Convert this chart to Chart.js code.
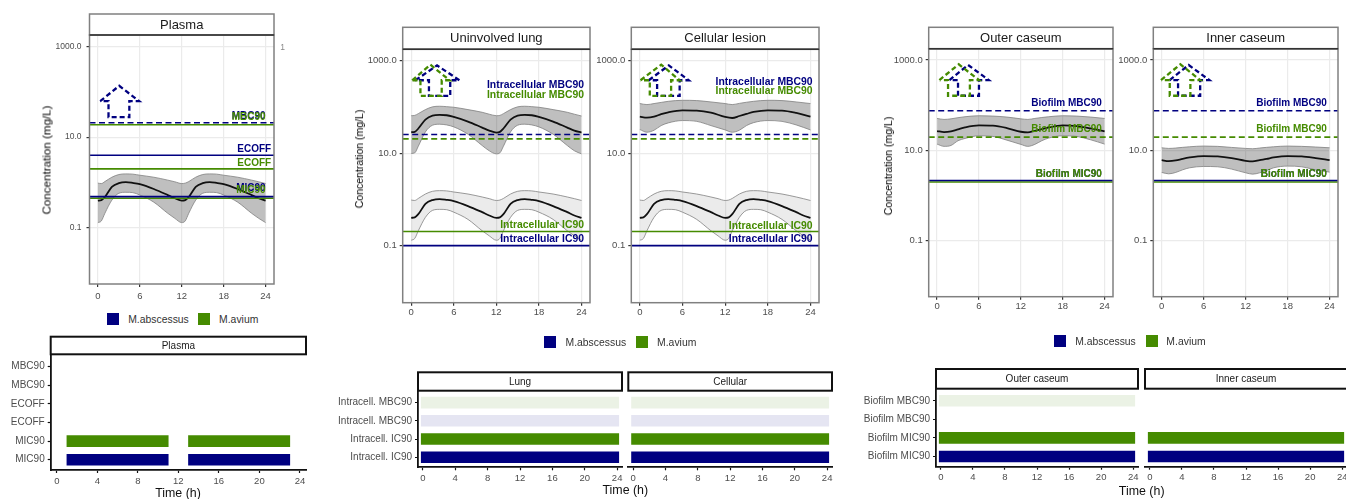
<!DOCTYPE html>
<html>
<head>
<meta charset="utf-8">
<script src="https://cdn.jsdelivr.net/npm/chart.js@4/dist/chart.umd.min.js"></script>
<style>
  html, body { margin: 0; background: #fff; }
  #page { position: relative; width: 1346px; height: 499px; overflow: hidden; font-family: "Liberation Sans", Arial, sans-serif; }
  #page canvas { position: absolute; }
  .txt { position: absolute; white-space: nowrap; transform: translate(-50%, -50%); }
  .swatch { position: absolute; }
</style>
</head>
<body>
<div id="page"></div>
<script>
// sampling hours
const hoursFine = [0, 0.5, 1, 2, 3, 4, 5, 6, 8, 10, 11, 12, 12.5, 13, 14, 15, 16, 17, 18, 20, 22, 23, 24];
const hoursCoarse = [0, 1, 2, 3, 4, 6, 8, 10, 12, 13, 14, 15, 16, 18, 20, 22, 24];

// plasma profile, the intracellular bands in lung and lesion read the same
const plasmaUpper = [0.97, 0.95, 1.05, 1.31, 1.5, 1.55, 1.53, 1.45, 1.31, 1.13, 1.04, 0.95, 0.97, 1.05, 1.31, 1.5, 1.55, 1.53, 1.45, 1.31, 1.13, 1.04, 0.95];
const plasmaMedian = [0.4, 0.41, 0.48, 0.8, 0.97, 1.02, 0.98, 0.92, 0.72, 0.53, 0.45, 0.4, 0.41, 0.48, 0.8, 0.97, 1.02, 0.98, 0.92, 0.72, 0.53, 0.45, 0.4];
const plasmaLower = [0.131, 0.143, 0.21, 0.41, 0.58, 0.61, 0.6, 0.53, 0.37, 0.21, 0.163, 0.131, 0.143, 0.21, 0.41, 0.58, 0.61, 0.6, 0.53, 0.37, 0.21, 0.163, 0.131];

const lungUpper = [65, 66, 72, 88, 101, 104, 102, 99, 88, 77, 70, 65, 66, 72, 88, 101, 104, 102, 99, 88, 77, 70, 64];
const lungMedian = [28.5, 29, 34.3, 53.6, 65.4, 67.6, 66.5, 61, 48.5, 36, 31, 28, 29, 34.3, 53.6, 65.4, 67.6, 66.5, 61, 48.5, 36, 31, 28];
const lungLower = [9.9, 10.2, 14.2, 29, 40.4, 42.5, 41, 37.2, 25.8, 14.7, 11.3, 9.7, 10.2, 14.2, 29, 40.4, 42.5, 41, 37.2, 25.8, 14.7, 11.3, 9.7];

const cellularUpper = [119, 113, 119, 126, 133, 140, 138, 129, 119, 113, 120, 127, 133, 140, 138, 129, 119];
const cellularMedian = [62, 59, 62, 70, 77, 85, 84, 76, 61, 58, 64, 71, 78.5, 85, 84, 74.7, 62];
const cellularLower = [32.6, 28.5, 31.5, 39.7, 45.4, 51, 49, 39.7, 32, 28.5, 31.5, 39.7, 46, 51, 49, 41, 32];

const outerUpper = [51, 48.5, 50, 53, 55.6, 58.5, 57.5, 54.7, 50, 48.5, 51, 53.5, 55.6, 58.5, 57.5, 54.7, 51];
const outerMedian = [26.8, 25.5, 26.4, 29.2, 32.3, 35.8, 35.2, 31.2, 25.9, 25, 27.2, 29.5, 32.3, 35.8, 34.6, 30.7, 26.4];
const outerLower = [13.8, 12.3, 12.9, 16.4, 18.4, 21.1, 20.4, 16.9, 13.6, 12.3, 13.6, 16.4, 18.8, 21.1, 20.4, 17.2, 13.8];

const innerUpper = [11.45, 11.07, 11.3, 11.7, 12.05, 12.5, 12.3, 11.65, 11.07, 10.9, 11.3, 11.7, 12.05, 12.5, 12.3, 11.9, 11.45];
const innerMedian = [6.11, 5.8, 6, 6.54, 7, 7.5, 7.37, 6.77, 5.9, 5.7, 6.11, 6.5, 7, 7.5, 7.37, 6.77, 6.11];
const innerLower = [3.26, 3.04, 3.26, 3.73, 4.13, 4.42, 4.35, 3.86, 3.2, 2.99, 3.2, 3.61, 4.13, 4.5, 4.35, 3.73, 3.31];

// thresholds as [M.abscessus, M.avium]
const plasmaMBC = [20.7, 18.7];
const plasmaECOFF = [4, 2];
const plasmaMIC = [0.49, 0.45];
const intraMBC = [25.4, 20.5];
const intraIC = [0.1, 0.203];
const biofilmMBC = [75.5, 19.7];
const biofilmMIC = [2.17, 2];

// tick labels
const concTicks = [0.1, 10, 1000];
const hourTicks = [0, 6, 12, 18, 24];
const coverTicks = [0, 4, 8, 12, 16, 20, 24];
const plasmaRows = ["MIC90", "MIC90", "ECOFF", "ECOFF", "MBC90", "MBC90"];
const intraRows = ["Intracell. IC90", "Intracell. IC90", "Intracell. MBC90", "Intracell. MBC90"];
const biofilmRows = ["Biofilm MIC90", "Biofilm MIC90", "Biofilm MBC90", "Biofilm MBC90"];

// hours above threshold, lower plots
const plasmaSpans = [[1, 11], [13, 23]];
const fullDaySpan = [[-0.2, 24.2]];

const NAVY = "#000080";
const GREEN = "#458B00";
const NAVY_PALE = "#e5e5f2";
const GREEN_PALE = "#ebf2e5";
const DARK_BAND = "rgba(0,0,0,0.25)";
const LIGHT_BAND = "rgba(0,0,0,0.08)";
const FONT = '"Liberation Sans", Arial, sans-serif';

const page = document.getElementById("page");

function addText(text, x, y, size, color, rotate) {
  const d = document.createElement("div");
  d.className = "txt";
  d.textContent = text;
  d.style.left = x + "px";
  d.style.top = y + "px";
  d.style.fontSize = size + "px";
  d.style.color = color;
  if (rotate) d.style.transform = "translate(-50%, -50%) rotate(-90deg)";
  page.appendChild(d);
}

function addLegend(sw1, txt1, sw2, txt2, y) {
  [[sw1, NAVY], [sw2, GREEN]].forEach(([x, c]) => {
    const s = document.createElement("div");
    s.className = "swatch";
    s.style.cssText = `left:${x}px;top:${y - 6}px;width:12px;height:12px;background:${c}`;
    page.appendChild(s);
  });
  addText("M.abscessus", txt1 + 30.5, y, 10.4, "#333", false);
  addText("M.avium", txt2 + 20, y, 10.4, "#333", false);
}

function makeCanvas(box, yW, xH) {
  const left = Math.floor(box.left - yW);
  const top = Math.floor(box.stripTop - 2);
  const c = document.createElement("canvas");
  c.width = Math.ceil(box.right + 14 - left);
  c.height = Math.ceil(box.bottom + xH - top);
  c.style.left = left + "px";
  c.style.top = top + "px";
  page.appendChild(c);
  return { canvas: c, yWidth: box.left - left, padTop: box.stripBottom - top, xH: c.height - (box.bottom - top) };
}

// facet strip and panel frame
function framePlugin(box, title, size, stripColor, stripWidth, frameColor) {
  return {
    id: "frame",
    afterDraw(chart) {
      const ctx = chart.ctx;
      const a = chart.chartArea;
      const off = chart.canvas.getBoundingClientRect();
      const sTop = box.stripTop - off.top;
      ctx.save();
      ctx.fillStyle = "#fff";
      ctx.strokeStyle = stripColor;
      ctx.lineWidth = stripWidth;
      ctx.fillRect(a.left, sTop, a.right - a.left, a.top - sTop);
      ctx.strokeRect(a.left, sTop, a.right - a.left, a.top - sTop);
      if (frameColor) {
        ctx.strokeStyle = frameColor;
        ctx.strokeRect(a.left, a.top, a.right - a.left, a.bottom - a.top);
        ctx.strokeStyle = "#333";
        ctx.beginPath();
        ctx.moveTo(a.left, a.top);
        ctx.lineTo(a.right, a.top);
        ctx.stroke();
      }
      ctx.fillStyle = "#1a1a1a";
      ctx.font = size + "px " + FONT;
      ctx.textAlign = "center";
      ctx.textBaseline = "middle";
      ctx.fillText(title, (a.left + a.right) / 2, (sTop + a.top) / 2 + 0.5);
      ctx.restore();
    }
  };
}

// threshold labels sit in data coordinates
function labelPlugin(labels, size) {
  return {
    id: "thresholdLabels",
    afterDatasetsDraw(chart) {
      const ctx = chart.ctx;
      ctx.save();
      ctx.font = "bold " + size + "px " + FONT;
      ctx.textAlign = "right";
      ctx.textBaseline = "middle";
      labels.forEach(([text, h, v, color]) => {
        ctx.fillStyle = color;
        ctx.fillText(text, chart.scales.x.getPixelForValue(h), chart.scales.y.getPixelForValue(v));
      });
      ctx.restore();
    }
  };
}

function arrowData(a) {
  return [
    { x: a.left, y: a.shoulder }, { x: a.tip, y: a.top }, { x: a.right, y: a.shoulder },
    { x: a.stemR, y: a.shoulder }, { x: a.stemR, y: a.foot }, { x: a.stemL, y: a.foot },
    { x: a.stemL, y: a.shoulder }, { x: a.left, y: a.shoulder }
  ];
}

function zip(xs, ys) {
  return xs.map((x, i) => ({ x: x, y: ys[i] }));
}

function drawConcentration(p) {
  const m = makeCanvas(p.box, 40, 24);
  const datasets = [];
  p.bands.forEach((b) => {
    const first = datasets.length;
    datasets.push({ data: zip(b.hours, b.lower), borderColor: "#808080", borderWidth: 0.8, order: 3, cubicInterpolationMode: "monotone" });
    datasets.push({ data: zip(b.hours, b.upper), borderColor: "#808080", borderWidth: 0.8, order: 3, cubicInterpolationMode: "monotone", fill: { target: first }, backgroundColor: b.fill });
    datasets.push({ data: zip(b.hours, b.median), borderColor: "#111", borderWidth: 1.8, order: 2, cubicInterpolationMode: "monotone" });
  });
  p.solid.forEach((pair) => {
    [NAVY, GREEN].forEach((c, i) => {
      datasets.push({ data: zip([-1.2, 25.2], [pair[i], pair[i]]), borderColor: c, borderWidth: 1.6, order: i === 0 ? 0 : 1 });
    });
  });
  p.dashed.forEach((pair) => {
    [NAVY, GREEN].forEach((c, i) => {
      const solidLine = p.aviumSolid && i === 1;
      datasets.push({ data: zip([-1.2, 25.2], [pair[i], pair[i]]), borderColor: c, borderWidth: 1.6, borderDash: solidLine ? [] : [6, 3.5], order: i === 0 ? 0 : 1 });
    });
  });
  p.arrows.forEach((a) => {
    datasets.push({ data: arrowData(a), borderColor: a.color, borderWidth: 2.3, borderDash: [5, 3], order: 0 });
  });

  new Chart(m.canvas, {
    type: "line",
    data: { datasets: datasets },
    plugins: [labelPlugin(p.labels, p.labelSize), framePlugin(p.box, p.title, 13, "#808080", 1.5, "#808080")],
    options: {
      responsive: false,
      animation: false,
      devicePixelRatio: 1,
      elements: { point: { radius: 0 }, line: { tension: 0 } },
      layout: { padding: { top: m.padTop, right: 14, left: 0, bottom: 0 } },
      plugins: { legend: { display: false }, tooltip: { enabled: false } },
      scales: {
        x: {
          type: "linear",
          min: -1.2,
          max: 25.2,
          afterBuildTicks: (s) => { s.ticks = hourTicks.map((v) => ({ value: v })); },
          afterFit: (s) => { s.height = m.xH; },
          border: { display: false },
          grid: { color: "#ebebeb", lineWidth: 1.2, tickColor: "#333", tickLength: 3 },
          ticks: { color: "#4d4d4d", font: { family: FONT, size: 9.5 }, padding: p.xPad, maxRotation: 0, autoSkip: false, callback: (v) => v }
        },
        y: {
          type: "logarithmic",
          min: Math.pow(10, -2.235),
          max: Math.pow(10, 3.25),
          afterBuildTicks: (s) => { s.ticks = concTicks.map((v) => ({ value: v })); },
          afterFit: (s) => { s.width = m.yWidth; },
          border: { display: false },
          grid: { color: "#ebebeb", lineWidth: 1.2, tickColor: "#333", tickLength: 3 },
          ticks: { color: "#4d4d4d", font: { family: FONT, size: p.tickSize }, padding: p.yPad, autoSkip: false, callback: (v) => Number(v).toFixed(1) }
        }
      }
    }
  });
}

function drawCoverage(p) {
  const m = makeCanvas(p.box, 90, 24);
  const datasets = p.series.map((s) => ({
    data: s.spans.map((span) => ({ x: span, y: s.row })),
    backgroundColor: s.color,
    barThickness: 11,
    grouped: false
  }));

  new Chart(m.canvas, {
    type: "bar",
    data: { datasets: datasets },
    plugins: [framePlugin(p.box, p.title, 10, "#111", 2, null)],
    options: {
      indexAxis: "y",
      responsive: false,
      animation: false,
      devicePixelRatio: 1,
      layout: { padding: { top: m.padTop, right: 14, left: 0, bottom: 0 } },
      plugins: { legend: { display: false }, tooltip: { enabled: false } },
      scales: {
        x: {
          type: "linear",
          min: -0.6,
          max: 24.6,
          afterBuildTicks: (s) => { s.ticks = coverTicks.map((v) => ({ value: v })); },
          afterFit: (s) => { s.height = m.xH; },
          border: { display: true, color: "#111", width: 1.8 },
          grid: { display: true, drawOnChartArea: false, tickColor: "#111", tickLength: 3, tickWidth: 1.2 },
          ticks: { color: "#4d4d4d", font: { family: FONT, size: 9.5 }, padding: p.xPad, maxRotation: 0, autoSkip: false, callback: (v) => v }
        },
        y: {
          type: "linear",
          offset: false,
          min: -0.55,
          max: p.rows.length - 0.35,
          afterBuildTicks: (s) => { s.ticks = p.rows.map((r, i) => ({ value: i })); },
          afterFit: (s) => { s.width = m.yWidth; },
          border: { display: p.showRows, color: "#111", width: 1.8 },
          grid: { display: p.showRows, offset: false, drawOnChartArea: false, tickColor: "#111", tickLength: 3, tickWidth: 1.2 },
          ticks: { display: p.showRows, color: "#4d4d4d", font: { family: FONT, size: 10 }, padding: 3, autoSkip: false, callback: (v) => p.rows[v] }
        }
      }
    }
  });
}

// panel boxes in page pixels
const boxes = {
  plasma: { left: 89.5, right: 274, stripTop: 14, stripBottom: 35, bottom: 284 },
  lung: { left: 402.7, right: 590, stripTop: 27.3, stripBottom: 49.3, bottom: 302.7 },
  cellular: { left: 631.3, right: 819, stripTop: 27.3, stripBottom: 49.3, bottom: 302.7 },
  outer: { left: 928.7, right: 1112.7, stripTop: 27.3, stripBottom: 48.7, bottom: 296.7 },
  inner: { left: 1153.3, right: 1337.3, stripTop: 27.3, stripBottom: 48.7, bottom: 296.7 },
  plasmaCover: { left: 50.7, right: 305.7, stripTop: 336.7, stripBottom: 354.3, bottom: 470 },
  lungCover: { left: 418, right: 621.7, stripTop: 372.3, stripBottom: 390.7, bottom: 467.3 },
  cellularCover: { left: 628.3, right: 832, stripTop: 372.3, stripBottom: 390.7, bottom: 467.3 },
  outerCover: { left: 936, right: 1137.7, stripTop: 369, stripBottom: 388.7, bottom: 466.7 },
  innerCover: { left: 1145, right: 1346.7, stripTop: 369, stripBottom: 388.7, bottom: 466.7 }
};

function arrow(color, tip, left, right, stemL, stemR, top, shoulder, foot) {
  return { color, tip, left, right, stemL, stemR, top, shoulder, foot };
}

const lightBand = { hours: hoursFine, upper: plasmaUpper, median: plasmaMedian, lower: plasmaLower, fill: LIGHT_BAND };

drawConcentration({
  title: "Plasma", box: boxes.plasma, tickSize: 8.5, xPad: 4, yPad: 5, labelSize: 10, aviumSolid: true,
  bands: [{ hours: hoursFine, upper: plasmaUpper, median: plasmaMedian, lower: plasmaLower, fill: DARK_BAND }],
  solid: [plasmaECOFF, plasmaMIC], dashed: [plasmaMBC],
  arrows: [arrow(NAVY, 3.05, 0.33, 5.9, 1.52, 4.5, 135, 62, 27.6)],
  labels: [
    ["MBC90", 24, 29, NAVY], ["MBC90", 24, 28, GREEN],
    ["ECOFF", 24.8, 5.35, NAVY], ["ECOFF", 24.8, 2.63, GREEN],
    ["MIC90", 24, 0.737, NAVY], ["MIC90", 24, 0.689, GREEN]
  ]
});
drawConcentration({
  title: "Uninvolved lung", box: boxes.lung, tickSize: 9.5, xPad: 1, yPad: 3, labelSize: 10.4,
  bands: [{ hours: hoursFine, upper: lungUpper, median: lungMedian, lower: lungLower, fill: DARK_BAND }, lightBand],
  solid: [intraIC], dashed: [intraMBC],
  arrows: [arrow(GREEN, 2.7, 0.14, 5.4, 1.3, 4.3, 826, 380, 174), arrow(NAVY, 3.64, 0.6, 6.8, 2.5, 5.5, 797, 380, 174)],
  labels: [
    ["Intracellular MBC90", 24.35, 291, NAVY], ["Intracellular MBC90", 24.35, 183, GREEN],
    ["Intracellular IC90", 24.35, 0.283, GREEN], ["Intracellular IC90", 24.35, 0.137, NAVY]
  ]
});
drawConcentration({
  title: "Cellular lesion", box: boxes.cellular, tickSize: 9.5, xPad: 1, yPad: 3, labelSize: 10.4,
  bands: [{ hours: hoursCoarse, upper: cellularUpper, median: cellularMedian, lower: cellularLower, fill: DARK_BAND }, lightBand],
  solid: [intraIC], dashed: [intraMBC],
  arrows: [arrow(GREEN, 3, 0.1, 5.6, 1.4, 4.4, 826, 380, 174), arrow(NAVY, 4.07, 1.26, 6.87, 2.43, 5.6, 797, 380, 174)],
  labels: [
    ["Intracellular MBC90", 24.3, 338, NAVY], ["Intracellular MBC90", 24.3, 220, GREEN],
    ["Intracellular IC90", 24.3, 0.265, GREEN], ["Intracellular IC90", 24.3, 0.137, NAVY]
  ]
});
drawConcentration({
  title: "Outer caseum", box: boxes.outer, tickSize: 9.5, xPad: 1, yPad: 3, labelSize: 10,
  bands: [{ hours: hoursCoarse, upper: outerUpper, median: outerMedian, lower: outerLower, fill: DARK_BAND }],
  solid: [biofilmMIC], dashed: [biofilmMBC],
  arrows: [arrow(GREEN, 3.1, 0.33, 6, 1.57, 4.7, 802, 360, 162), arrow(NAVY, 4.44, 1.77, 7.4, 3, 6, 776, 360, 162)],
  labels: [
    ["Biofilm MBC90", 23.6, 108, NAVY], ["Biofilm MBC90", 23.6, 28.7, GREEN],
    ["Biofilm MIC90", 23.6, 3.04, NAVY], ["Biofilm MIC90", 23.6, 3, GREEN]
  ]
});
drawConcentration({
  title: "Inner caseum", box: boxes.inner, tickSize: 9.5, xPad: 1, yPad: 3, labelSize: 10,
  bands: [{ hours: hoursCoarse, upper: innerUpper, median: innerMedian, lower: innerLower, fill: DARK_BAND }],
  solid: [biofilmMIC], dashed: [biofilmMBC],
  arrows: [arrow(GREEN, 2.67, -0.1, 5.5, 1.15, 4.1, 802, 360, 162), arrow(NAVY, 3.86, 1.15, 6.8, 2.34, 5.5, 776, 360, 162)],
  labels: [
    ["Biofilm MBC90", 23.6, 108, NAVY], ["Biofilm MBC90", 23.6, 28.7, GREEN],
    ["Biofilm MIC90", 23.6, 3.04, NAVY], ["Biofilm MIC90", 23.6, 3, GREEN]
  ]
});

const intraSeries = [
  { row: 0, spans: fullDaySpan, color: NAVY }, { row: 1, spans: fullDaySpan, color: GREEN },
  { row: 2, spans: fullDaySpan, color: NAVY_PALE }, { row: 3, spans: fullDaySpan, color: GREEN_PALE }
];
drawCoverage({
  title: "Plasma", box: boxes.plasmaCover, rows: plasmaRows, showRows: true, xPad: 3,
  series: [{ row: 0, spans: plasmaSpans, color: NAVY }, { row: 1, spans: plasmaSpans, color: GREEN }]
});
drawCoverage({ title: "Lung", box: boxes.lungCover, rows: intraRows, showRows: true, xPad: 2, series: intraSeries });
drawCoverage({ title: "Cellular", box: boxes.cellularCover, rows: intraRows, showRows: false, xPad: 2, series: intraSeries });
drawCoverage({
  title: "Outer caseum", box: boxes.outerCover, rows: biofilmRows, showRows: true, xPad: 2,
  series: [{ row: 0, spans: fullDaySpan, color: NAVY }, { row: 1, spans: fullDaySpan, color: GREEN }, { row: 3, spans: fullDaySpan, color: GREEN_PALE }]
});
drawCoverage({
  title: "Inner caseum", box: boxes.innerCover, rows: biofilmRows, showRows: false, xPad: 2,
  series: [{ row: 0, spans: fullDaySpan, color: NAVY }, { row: 1, spans: fullDaySpan, color: GREEN }]
});

// shared titles and legends
addText("Concentration (mg/L)", 45.5, 160, 11.6, "#000", true);
addText("Concentration (mg/L)", 359, 159, 10.5, "#000", true);
addText("Concentration (mg/L)", 888, 166, 10.5, "#000", true);
addText("1", 282.7, 47, 8.5, "#888", false);
addText("Time (h)", 178, 493, 12.4, "#111", false);
addText("Time (h)", 625.3, 490, 12.4, "#111", false);
addText("Time (h)", 1141.7, 490.7, 12.4, "#111", false);
addLegend(107.3, 128, 198, 218.7, 319);
addLegend(544.3, 565.3, 636, 656.7, 341.7);
addLegend(1054, 1075, 1145.7, 1166, 341);
</script>
</body>
</html>
